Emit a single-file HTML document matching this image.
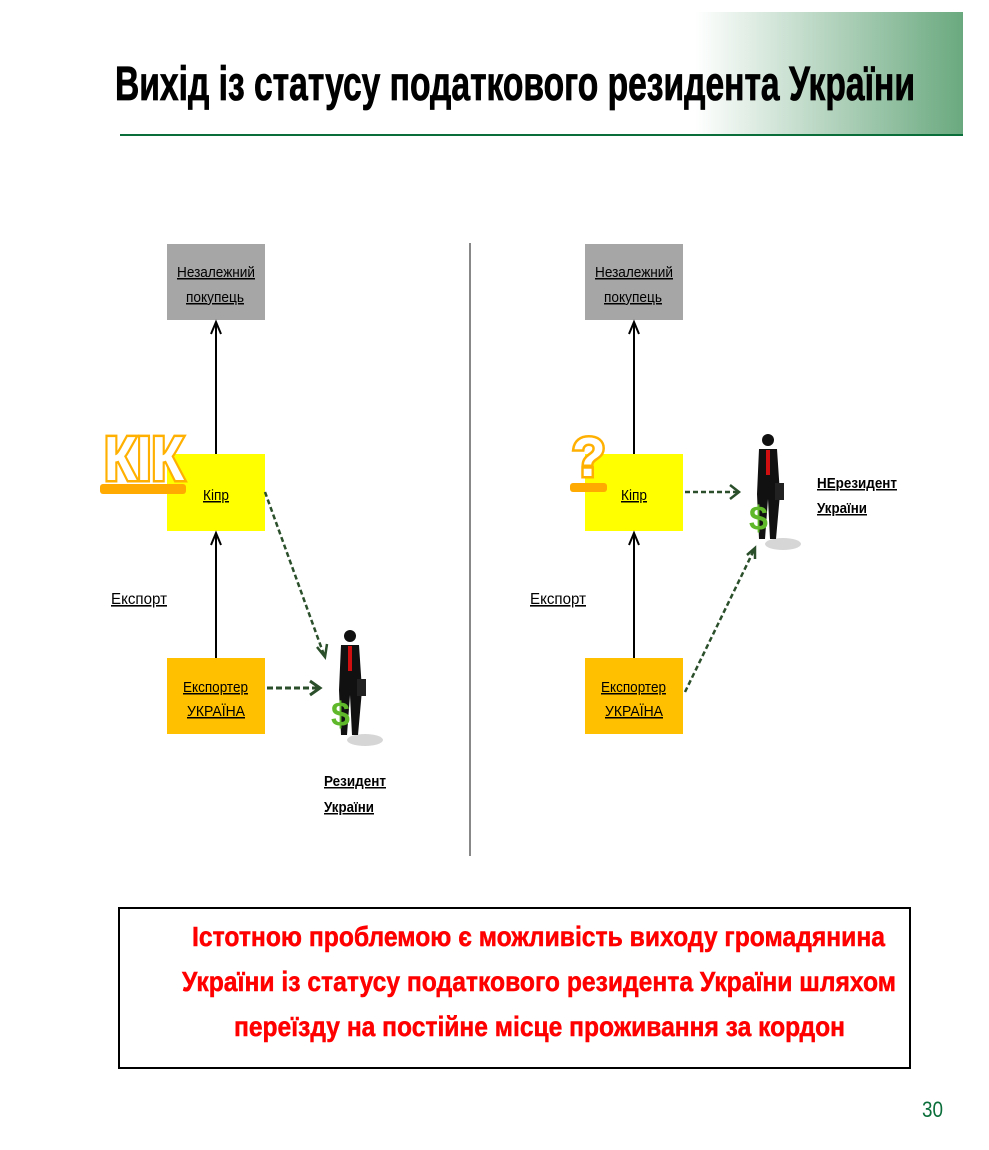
<!DOCTYPE html>
<html><head><meta charset="utf-8"><style>
html,body{margin:0;padding:0;background:#fff;}
svg{display:block;}
text{font-family:"Liberation Sans",sans-serif;}
</style></head><body>
<svg width="989" height="1150" viewBox="0 0 989 1150" xmlns="http://www.w3.org/2000/svg">
<defs>
<linearGradient id="g" x1="0" x2="1" y1="0" y2="0">
<stop offset="0" stop-color="#ffffff"/><stop offset="1" stop-color="#6aa97f"/>
</linearGradient>
</defs>
<rect x="695" y="12" width="268" height="123" fill="url(#g)"/>
<line x1="120" y1="135" x2="963" y2="135" stroke="#0a6e3a" stroke-width="2"/>
<text x="115" y="100" font-size="48" font-weight="bold" fill="#000" stroke="#000" stroke-width="0.8" textLength="800" lengthAdjust="spacingAndGlyphs">Вихід із статусу податкового резидента України</text>

<line x1="470" y1="243" x2="470" y2="856" stroke="#888" stroke-width="2"/>

<g>
<rect x="167" y="244" width="98" height="76" fill="#a6a6a6"/>
<rect x="167" y="454" width="98" height="77" fill="#ffff00"/>
<rect x="167" y="658" width="98" height="76" fill="#ffc000"/>
<line x1="216" y1="454" x2="216" y2="323" stroke="#000" stroke-width="2"/>
<polyline points="211,334 216,322 221,334" fill="none" stroke="#000" stroke-width="2"/>
<line x1="216" y1="658" x2="216" y2="534" stroke="#000" stroke-width="2"/>
<polyline points="211,545 216,533 221,545" fill="none" stroke="#000" stroke-width="2"/>
<line x1="265" y1="492" x2="324" y2="655" stroke="#2a4f2a" stroke-width="2.5" stroke-dasharray="5,3"/>
<polyline points="317,647 325,657 327,644" fill="none" stroke="#2a4f2a" stroke-width="2.5"/>
<line x1="267" y1="688" x2="318" y2="688" stroke="#2a4f2a" stroke-width="3" stroke-dasharray="6,3"/>
<polyline points="310,681 320,688 310,695" fill="none" stroke="#2a4f2a" stroke-width="3"/>
</g>
<g>
<rect x="585" y="244" width="98" height="76" fill="#a6a6a6"/>
<rect x="585" y="454" width="98" height="77" fill="#ffff00"/>
<rect x="585" y="658" width="98" height="76" fill="#ffc000"/>
<line x1="634" y1="454" x2="634" y2="323" stroke="#000" stroke-width="2"/>
<polyline points="629,334 634,322 639,334" fill="none" stroke="#000" stroke-width="2"/>
<line x1="634" y1="658" x2="634" y2="534" stroke="#000" stroke-width="2"/>
<polyline points="629,545 634,533 639,545" fill="none" stroke="#000" stroke-width="2"/>
<line x1="685" y1="492" x2="737" y2="492" stroke="#2a4f2a" stroke-width="2.5" stroke-dasharray="5,3"/>
<polyline points="730,485 739,492 730,499" fill="none" stroke="#2a4f2a" stroke-width="2.5"/>
<line x1="685" y1="692" x2="754" y2="550" stroke="#2a4f2a" stroke-width="2.5" stroke-dasharray="5,3"/>
<polyline points="747,555 755,548 755,559" fill="none" stroke="#2a4f2a" stroke-width="2.5"/>
</g>

<g font-size="15" fill="#000" text-decoration="underline">
<text x="177" y="277" textLength="78" lengthAdjust="spacingAndGlyphs">Незалежний</text>
<text x="186" y="302" textLength="58" lengthAdjust="spacingAndGlyphs">покупець</text>
<text x="203" y="500" textLength="26" lengthAdjust="spacingAndGlyphs">Кіпр</text>
<text x="183" y="692" textLength="65" lengthAdjust="spacingAndGlyphs">Експортер</text>
<text x="187" y="716" textLength="58" lengthAdjust="spacingAndGlyphs">УКРАЇНА</text>
<text x="595" y="277" textLength="78" lengthAdjust="spacingAndGlyphs">Незалежний</text>
<text x="604" y="302" textLength="58" lengthAdjust="spacingAndGlyphs">покупець</text>
<text x="621" y="500" textLength="26" lengthAdjust="spacingAndGlyphs">Кіпр</text>
<text x="601" y="692" textLength="65" lengthAdjust="spacingAndGlyphs">Експортер</text>
<text x="605" y="716" textLength="58" lengthAdjust="spacingAndGlyphs">УКРАЇНА</text>
</g>
<g font-size="16" fill="#000" text-decoration="underline">
<text x="111" y="604" textLength="56" lengthAdjust="spacingAndGlyphs">Експорт</text>
<text x="530" y="604" textLength="56" lengthAdjust="spacingAndGlyphs">Експорт</text>
</g>
<g font-size="15" font-weight="bold" fill="#000" text-decoration="underline">
<text x="324" y="786" textLength="62" lengthAdjust="spacingAndGlyphs">Резидент</text>
<text x="324" y="812" textLength="50" lengthAdjust="spacingAndGlyphs">України</text>
<text x="817" y="488" textLength="80" lengthAdjust="spacingAndGlyphs">НЕрезидент</text>
<text x="817" y="513" textLength="50" lengthAdjust="spacingAndGlyphs">України</text>
</g>

<rect x="100" y="484" width="86" height="10" rx="3" fill="#ffaa00"/>
<text x="104" y="480" font-size="62" font-weight="bold" fill="#fff" stroke="#ffb000" stroke-width="5" paint-order="stroke" textLength="80" lengthAdjust="spacingAndGlyphs">КІК</text>
<rect x="570" y="483" width="37" height="9" rx="3" fill="#ffaa00"/>
<text x="572" y="476" font-size="55" font-weight="bold" fill="#fff" stroke="#ffb000" stroke-width="5" paint-order="stroke">?</text>

<g id="man">
<ellipse cx="365" cy="740" rx="18" ry="6" fill="#bbb" opacity="0.6"/>
<circle cx="350" cy="636" r="6" fill="#111"/>
<path d="M341 645 L359 645 L362 690 L358 735 L352 735 L350 695 L347 735 L341 735 L339 690 Z" fill="#111"/>
<rect x="348" y="646" width="4" height="25" fill="#d01010"/>
<rect x="357" y="679" width="9" height="17" fill="#222"/>
<text x="331" y="726" font-size="34" font-weight="bold" fill="#5fb82a">$</text>
</g>
<use href="#man" x="418" y="-196"/>

<rect x="119" y="908" width="791" height="160" fill="#fff" stroke="#000" stroke-width="2"/>
<g font-size="28" font-weight="bold" fill="#ff0000" stroke="#ff0000" stroke-width="0.5">
<text x="192" y="946" textLength="693" lengthAdjust="spacingAndGlyphs">Істотною проблемою є можливість виходу громадянина</text>
<text x="182" y="991" textLength="714" lengthAdjust="spacingAndGlyphs">України із статусу податкового резидента України шляхом</text>
<text x="234" y="1036" textLength="611" lengthAdjust="spacingAndGlyphs">переїзду на постійне місце проживання за кордон</text>
</g>
<text x="922" y="1117" font-size="22" fill="#0a6e3a" textLength="21" lengthAdjust="spacingAndGlyphs">30</text>
</svg>
</body></html>
